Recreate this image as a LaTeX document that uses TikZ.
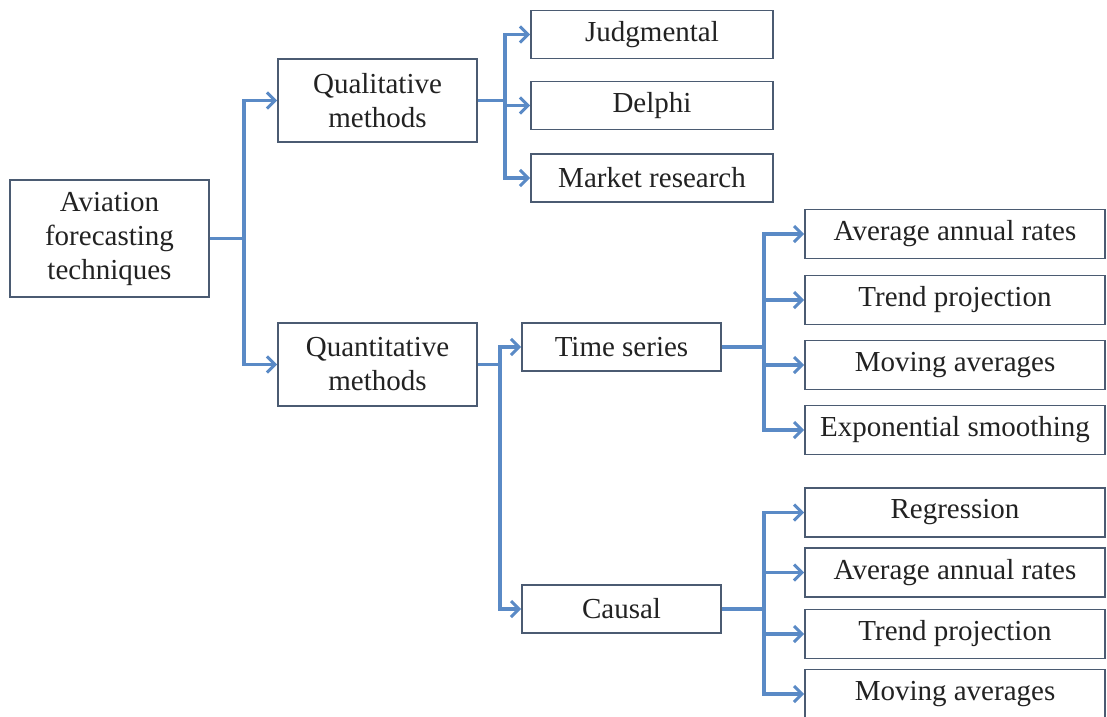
\documentclass[tikz,border=0pt]{standalone}
\usepackage{fontspec}
\setmainfont{Liberation Serif}
\usetikzlibrary{arrows.meta,positioning}
\definecolor{ink}{HTML}{222222}
\definecolor{edge}{HTML}{4B5B72}
\definecolor{link}{HTML}{5A8AC6}
\tikzset{
  box/.style={draw=edge,line width=1.8pt,fill=white,inner sep=0pt,align=center,text=ink,font=\fontsize{29}{34}\selectfont},
  boxm/.style={box,minimum width=199pt,minimum height=83pt},
  boxs/.style={box,minimum width=199pt,minimum height=48pt},
  boxq/.style={box,minimum width=242pt,minimum height=48pt},
  boxr/.style={box,minimum width=300pt,minimum height=49pt},
  ar/.style={-{Straight Barb[length=8pt,width=16pt,line width=3pt]},draw=link,line width=3.6pt},
}
\begin{document}
\begin{tikzpicture}[x=1pt,y=-1pt]
  \useasboundingbox (0,0) rectangle (1107,716);
  \node[box,minimum width=199pt,minimum height=117pt] (root) at (109.5,238.5) {Aviation\\forecasting\\techniques};
  \node[boxm] (qual) at (377.5,100.5) {Qualitative\\methods};
  \node[boxm] (quant) at (377.5,364.5) {Quantitative\\methods};
  % qualitative branch
  \node[boxq] (judg) at (652,34.5) {Judgmental};
  \node[boxq] (delphi) at (652,105.5) {Delphi};
  \node[boxq] (market) at (652,178) {Market research};
  % quantitative branch
  \node[boxs] (time) at (621.5,347) {Time series};
  \node[boxs] (causal) at (621.5,609) {Causal};
  \node[boxr] (tavg) at (955,234) {Average annual rates};
  \node[boxr] (ttrend) at (955,300) {Trend projection};
  \node[boxr] (tmov) at (955,365) {Moving averages};
  \node[boxr] (texp) at (955,430) {Exponential smoothing};
  \node[boxr] (creg) at (955,512.5) {Regression};
  \node[boxr] (cavg) at (955,572.5) {Average annual rates};
  \node[boxr] (ctrend) at (955,634) {Trend projection};
  \node[boxr] (cmov) at (955,694) {Moving averages};
  % connectors
  \foreach \h in {qual,quant} \draw[ar] (root.east) -- ++(34,0) |- (\h.west);
  \foreach \h in {judg,delphi,market} \draw[ar] (qual.east) -- ++(27,0) |- (\h.west);
  \foreach \h in {time,causal} \draw[ar] (quant.east) -- ++(22,0) |- (\h.west);
  \foreach \h in {tavg,ttrend,tmov,texp} \draw[ar] (time.east) -- ++(42,0) |- (\h.west);
  \foreach \h in {creg,cavg,ctrend,cmov} \draw[ar] (causal.east) -- ++(42,0) |- (\h.west);
\end{tikzpicture}
\end{document}
